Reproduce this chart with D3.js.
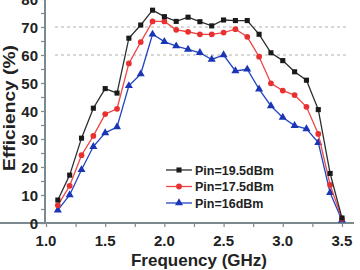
<!DOCTYPE html>
<html><head><meta charset="utf-8">
<script src="https://cdn.jsdelivr.net/npm/d3@7"></script>
<style>body{margin:0;background:#fff}svg{display:block}</style>
</head><body>
<svg id="c" width="360" height="270"></svg>
<script>
const freq = [1.1,1.2,1.3,1.4,1.5,1.6,1.7,1.8,1.9,2.0,2.1,2.2,2.3,2.4,2.5,2.6,2.7,2.8,2.9,3.0,3.1,3.2,3.3,3.4,3.5];
const pin195 = [8.2,17.1,30.3,41,48,46.4,66,70.7,76,73.7,72,73.5,71.9,70.4,72.5,72.3,72.3,67.4,60.8,58,54,51,40.5,17.7,1.8];
const pin175 = [6.3,13.3,24.2,31.1,38.9,40.8,57,64.6,72,72,69,68.3,67.4,67.4,68,69.2,66.5,59.4,49.9,47.3,45.7,41.5,31.8,13.6,1.5];
const pin16  = [4.6,10,19,27.3,32.2,34.3,49,53.2,67.4,64.8,63.2,62,60.8,58.4,60,54.3,54.9,47.8,41.8,37.7,34.8,33.6,28.7,10.8,1];
const seriesNames = ["Pin=19.5dBm","Pin=17.5dBm","Pin=16dBm"];
const xTicks = [1.0,1.5,2.0,2.5,3.0,3.5];
const yTicks = [0,10,20,30,40,50,60,70,80];
const gridVals = [60,70];

const svg = d3.select("#c");
const x = d3.scaleLinear().domain([1.0,3.6]).range([46,353.8]);
const y = d3.scaleLinear().domain([0,80]).range([223,-1]);
const axisColor = "#7b8a8e";

// grid
svg.selectAll(".grid").data(gridVals).enter().append("line")
  .attr("x1",55).attr("x2",348).attr("y1",d=>y(d)).attr("y2",d=>y(d))
  .attr("stroke","#b0b0b0").attr("stroke-width",1).attr("stroke-dasharray","3,3");

// axes
const xAxis = svg.append("g").attr("transform","translate(0,"+y(0)+")")
  .call(d3.axisBottom(x).tickValues(d3.range(1.0,3.6,0.25)).tickSize(4).tickFormat(""));
const yAxis = svg.append("g").attr("transform","translate(45,0)")
  .call(d3.axisLeft(y).tickValues(d3.range(0,81,5)).tickSize(4).tickFormat(""));
[xAxis,yAxis].forEach(g=>{
  g.select(".domain").attr("stroke",axisColor).attr("stroke-width",2);
  g.selectAll(".tick line").attr("stroke",axisColor).attr("stroke-width",1.2);
});
yAxis.select(".domain").attr("d","M0,"+y(0)+"V-5");
xAxis.select(".domain").attr("d","M-1,0H354");

// tick labels
svg.selectAll(".xl").data(xTicks).enter().append("text")
  .attr("x",d=>x(d)).attr("y",246).attr("text-anchor","middle")
  .attr("font-family","Liberation Sans, Arial, sans-serif").attr("font-weight","bold")
  .attr("font-size",15).attr("fill","#222").text(d=>d.toFixed(1));
svg.selectAll(".yl").data(yTicks).enter().append("text")
  .attr("x",38).attr("y",d=>y(d)+5.5).attr("text-anchor","end")
  .attr("font-family","Liberation Sans, Arial, sans-serif").attr("font-weight","bold")
  .attr("font-size",15).attr("fill","#222").text(d=>d);

// axis titles
svg.append("text").attr("x",199).attr("y",266).attr("text-anchor","middle")
  .attr("font-family","Liberation Sans, Arial, sans-serif").attr("font-weight","bold")
  .attr("font-size",17).attr("fill","#222").text("Frequency (GHz)");
svg.append("text").attr("transform","translate(15,108) rotate(-90) scale(1.2,1)")
  .attr("text-anchor","middle")
  .attr("font-family","Liberation Sans, Arial, sans-serif").attr("font-weight","bold")
  .attr("font-size",16).attr("fill","#222").text("Efficiency (%)");

// series
const series = [
  {name:seriesNames[0], vals:pin195, color:"#2a2e30", mcolor:"#1a1a1a", shape:d3.symbolSquare, size:26},
  {name:seriesNames[1], vals:pin175, color:"#f04545", mcolor:"#e83030", shape:d3.symbolCircle, size:26},
  {name:seriesNames[2], vals:pin16,  color:"#2345c0", mcolor:"#1a35b5", shape:d3.symbolTriangle, size:28}
];
const line = d3.line().x(d=>x(d[0])).y(d=>y(d[1]));
series.slice().reverse().forEach(s=>{
  const pts = freq.map((f,i)=>[f,s.vals[i]]);
  svg.append("path").attr("d",line(pts)).attr("fill","none")
    .attr("stroke",s.color).attr("stroke-width",1.3);
  svg.selectAll(null).data(pts).enter().append("path")
    .attr("transform",d=>"translate("+x(d[0])+","+y(d[1])+")")
    .attr("d",d3.symbol().type(s.shape).size(s.size)).attr("fill",s.mcolor);
});

// legend
const legY = [170,186.5,203];
series.forEach((s,i)=>{
  const g = svg.append("g").attr("transform","translate(0,"+legY[i]+")");
  g.append("line").attr("x1",166).attr("x2",192).attr("y1",0).attr("y2",0)
    .attr("stroke",s.color).attr("stroke-width",1.3);
  g.append("path").attr("transform","translate(179,0)")
    .attr("d",d3.symbol().type(s.shape).size(s.size)).attr("fill",s.mcolor);
  g.append("text").attr("x",195).attr("y",4.5)
    .attr("font-family","Liberation Sans, Arial, sans-serif").attr("font-weight","bold")
    .attr("font-size",12.5).attr("fill","#222").text(s.name);
});
</script>
</body></html>
